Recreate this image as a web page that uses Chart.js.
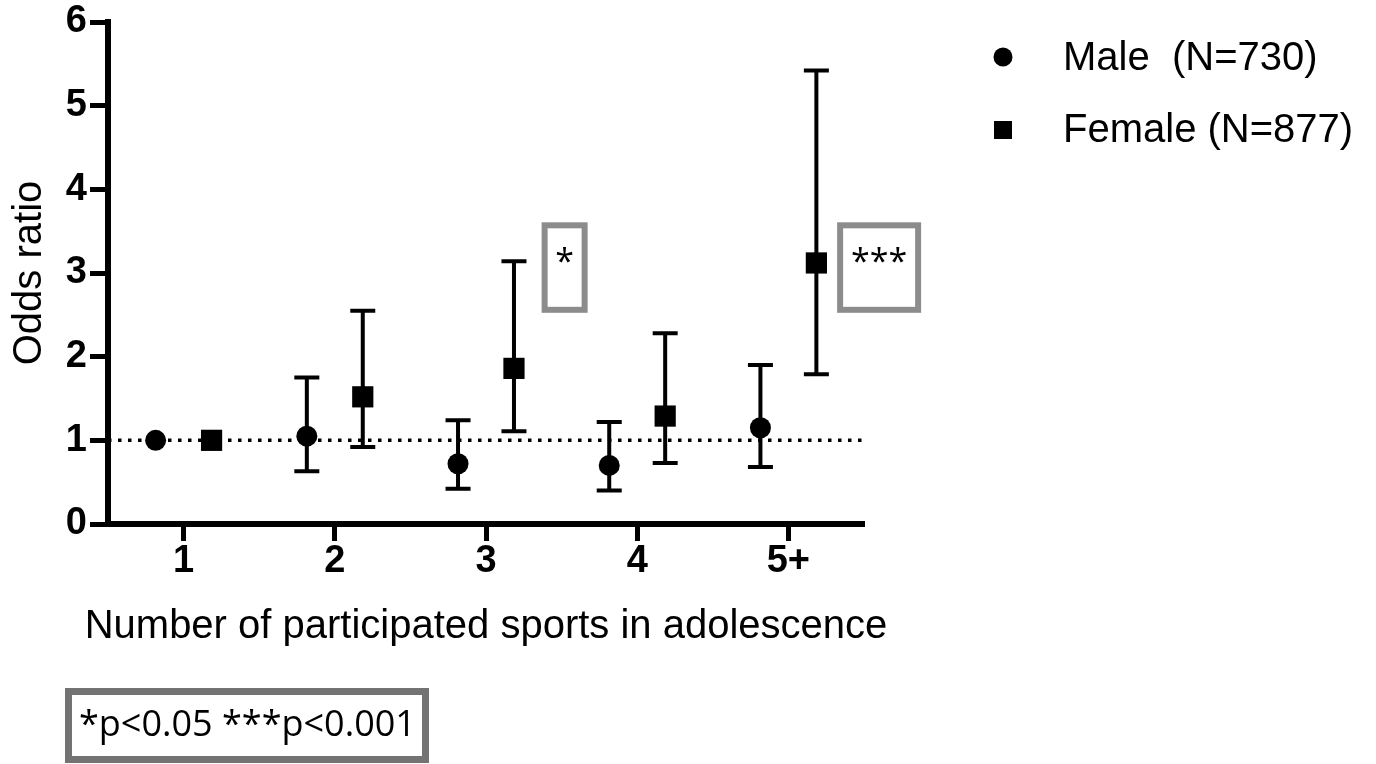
<!DOCTYPE html>
<html>
<head>
<meta charset="utf-8">
<script src="https://cdn.jsdelivr.net/npm/chart.js@4.4.1/dist/chart.umd.min.js"></script>
<style>
  html, body { margin: 0; padding: 0; background: #ffffff; }
  #wrap { width: 1376px; height: 764px; }
</style>
</head>
<body>
<div id="wrap"><canvas id="c" width="1376" height="764"></canvas></div>
<script>
// ---- data ----
const categories = ['1', '2', '3', '4', '5+'];
const categoryPositions = [1, 2, 3, 4, 5];
const seriesNames = ['Male  (N=730)', 'Female (N=877)'];
const maleOR    = [1.00, 1.05, 0.72, 0.70, 1.15];
const maleLow   = [null, 0.63, 0.42, 0.40, 0.68];
const maleHigh  = [null, 1.75, 1.24, 1.22, 1.90];
const femaleOR   = [1.00, 1.52, 1.86, 1.29, 3.12];
const femaleLow  = [null, 0.92, 1.11, 0.73, 1.79];
const femaleHigh = [null, 2.55, 3.14, 2.28, 5.42];
const yTicks = [0, 1, 2, 3, 4, 5, 6];
const referenceOR = 1;
const significance = [ { cat: 3, label: '*' }, { cat: 5, label: '***' } ];
const footnote = '*p<0.05 ***p<0.001';
const xTitle = 'Number of participated sports in adolescence';
const yTitle = 'Odds ratio';

// ---- styling ----
const FONT = '"Liberation Sans", Arial, Helvetica, sans-serif';
const FONT2 = '"Open Sans", Carlito, Lato, sans-serif';
const GROUP_OFFSET = 0.185;

const malePts = categoryPositions.map((c, i) => ({ x: c - GROUP_OFFSET, y: maleOR[i], lo: maleLow[i], hi: maleHigh[i] }));
const femalePts = categoryPositions.map((c, i) => ({ x: c + GROUP_OFFSET, y: femaleOR[i], lo: femaleLow[i], hi: femaleHigh[i] }));

const errorBarPlugin = {
  id: 'errorBars',
  afterDatasetDraw(chart, args) {
    if (args.index !== 0) return; // after reference line, before markers
    const ctx = chart.ctx, xs = chart.scales.x, ys = chart.scales.y;
    ctx.save();
    ctx.strokeStyle = '#000';
    ctx.lineWidth = 4;
    ctx.lineCap = 'butt';
    [malePts, femalePts].forEach(pts => {
      pts.forEach(p => {
        if (p.lo == null) return;
        const x = xs.getPixelForValue(p.x);
        const yl = ys.getPixelForValue(p.lo), yh = ys.getPixelForValue(p.hi);
        ctx.beginPath();
        ctx.moveTo(x, yl); ctx.lineTo(x, yh);
        ctx.moveTo(x - 12.5, yl); ctx.lineTo(x + 12.5, yl);
        ctx.moveTo(x - 12.5, yh); ctx.lineTo(x + 12.5, yh);
        ctx.stroke();
      });
    });
    ctx.restore();
  }
};

const decorPlugin = {
  id: 'decor',
  afterDraw(chart) {
    const ctx = chart.ctx, xs = chart.scales.x, ys = chart.scales.y;
    ctx.save();
    // x axis title (drawn here so it is not squeezed to the axis width)
    ctx.fillStyle = '#000';
    ctx.font = '40px ' + FONT;
    ctx.textAlign = 'center';
    ctx.textBaseline = 'middle';
    ctx.fillText(xTitle, (chart.chartArea.left + chart.chartArea.right) / 2, 627);
    // significance boxes
    significance.forEach(s => {
      const cx = s.cat === 5 ? xs.getPixelForValue(s.cat + 0.6) : xs.getPixelForValue(s.cat + 0.52);
      const w = s.label.length > 1 ? 78 : 40;
      const top = ys.getPixelForValue(3.57), bot = ys.getPixelForValue(2.56);
      ctx.strokeStyle = '#8c8c8c';
      ctx.lineWidth = 6;
      ctx.strokeRect(cx - w / 2, top, w, bot - top);
      ctx.fillStyle = '#000';
      ctx.font = '34px ' + FONT2;
      ctx.textAlign = 'center';
      ctx.textBaseline = 'middle';
      ctx.fillText(s.label, cx, top + 38);
    });
    // legend
    ctx.fillStyle = '#000';
    ctx.beginPath();
    ctx.arc(1003, 57, 9.5, 0, Math.PI * 2);
    ctx.fill();
    ctx.fillRect(994, 121, 18, 18);
    ctx.font = '40px ' + FONT;
    ctx.textAlign = 'left';
    ctx.textBaseline = 'middle';
    ctx.fillText(seriesNames[0], 1063, 59);
    ctx.fillText(seriesNames[1], 1063, 131);
    // footnote box
    ctx.strokeStyle = '#737373';
    ctx.lineWidth = 7;
    ctx.strokeRect(68.5, 691.5, 357, 68);
    ctx.font = '36px ' + FONT2;
    ctx.fillStyle = '#000';
    ctx.textAlign = 'left';
    ctx.fillText(footnote, 79, 726);
    ctx.restore();
  }
};

new Chart(document.getElementById('c'), {
  type: 'scatter',
  data: {
    datasets: [
      {
        type: 'line',
        label: 'reference',
        data: [{ x: 0.5, y: referenceOR }, { x: 5.5, y: referenceOR }],
        borderColor: '#000',
        borderWidth: 3.5,
        borderDash: [3.5, 6.5],
        pointRadius: 0,
        fill: false,
        order: 3
      },
      {
        label: seriesNames[0],
        data: malePts,
        pointStyle: 'circle',
        pointRadius: 10.5,
        backgroundColor: '#000',
        borderColor: '#000',
        borderWidth: 0,
        order: 2
      },
      {
        label: seriesNames[1],
        data: femalePts,
        pointStyle: 'rect',
        pointRadius: 15,
        backgroundColor: '#000',
        borderColor: '#000',
        borderWidth: 0,
        order: 1
      }
    ]
  },
  options: {
    responsive: false,
    animation: false,
    events: [],
    layout: { padding: { left: 0, top: 22, right: 512, bottom: 0 } },
    plugins: { legend: { display: false }, tooltip: { enabled: false } },
    scales: {
      x: {
        type: 'linear',
        min: 0.5, max: 5.5,
        afterBuildTicks: s => { s.ticks = categoryPositions.map(v => ({ value: v })); },
        afterFit: s => { s.height = 240; },
        border: { display: true, color: '#000', width: 6 },
        grid: { display: true, drawOnChartArea: false, drawTicks: true, tickLength: 17, tickWidth: 5, tickColor: '#000' },
        ticks: {
          color: '#000', padding: 2,
          font: { family: FONT, size: 38, weight: 'bold', lineHeight: 1 },
          callback: v => { const i = categoryPositions.indexOf(v); return i >= 0 ? categories[i] : ''; }
        },
        title: { display: false, text: xTitle }
      },
      y: {
        min: 0, max: 6,
        afterBuildTicks: s => { s.ticks = yTicks.map(v => ({ value: v })); },
        afterFit: s => { s.width = 108; },
        border: { display: true, color: '#000', width: 6 },
        grid: { display: true, drawOnChartArea: false, drawTicks: true, tickLength: 18, tickWidth: 5, tickColor: '#000' },
        ticks: { color: '#000', padding: 3, font: { family: FONT, size: 38, weight: 'bold', lineHeight: 1 } },
        title: { display: true, text: yTitle, color: '#000', font: { family: FONT, size: 40 }, padding: { top: 6, bottom: 0 } }
      }
    }
  },
  plugins: [errorBarPlugin, decorPlugin]
});
</script>
</body>
</html>
